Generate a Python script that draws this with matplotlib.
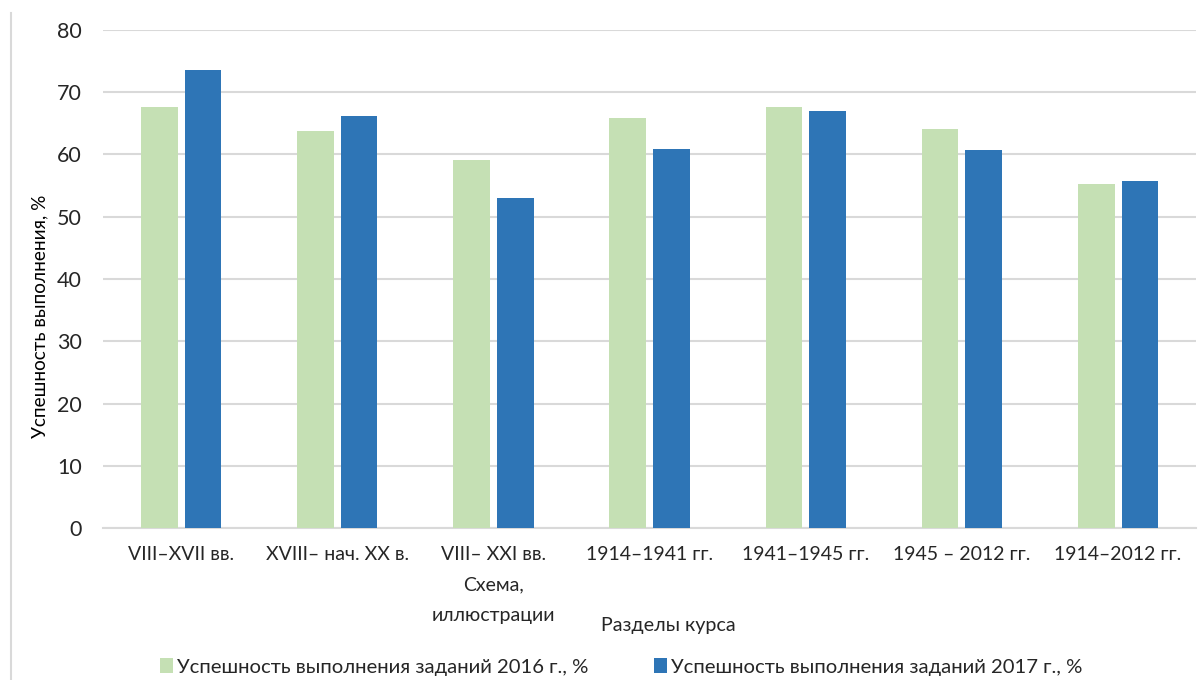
import numpy as np
import matplotlib.pyplot as plt
from matplotlib.lines import Line2D

plt.rcParams['font.family'] = ['Lato', 'DejaVu Sans']

# Разделы курса и успешность выполнения, %
sections = ["VIII–XVII вв.", "XVIII– нач. XX в.", "VIII– XXI вв.\nСхема,\nиллюстрации",
            "1914–1941 гг.", "1941–1945 гг.", "1945 – 2012 гг.", "1914–2012 гг."]
score_2016 = [67.6, 63.8, 59.0, 65.8, 67.6, 64.1, 55.3]
score_2017 = [73.5, 66.1, 52.9, 60.9, 66.9, 60.7, 55.7]
label_2016 = "Успешность выполнения заданий 2016 г., %"
label_2017 = "Успешность выполнения заданий 2017 г., %"

fig = plt.figure(figsize=(12.04, 6.80), dpi=100)
ax = fig.add_axes([0.0855, 0.223, 0.908, 0.7336])

x = np.arange(len(sections))
w = 0.235
ax.bar(x - 0.14, score_2016, w, color='#C5E0B4', label=label_2016, zorder=3)
ax.bar(x + 0.14, score_2017, w, color='#2E75B6', label=label_2017, zorder=3)

ax.set_xlim(-0.5, len(sections) - 0.5)
ax.set_ylim(0, 80)
ax.set_yticks(range(0, 81, 10))
ax.set_xticks(x)
ax.set_xticklabels(sections, fontsize=14, color='#262626', linespacing=1.95)
ax.tick_params(axis='y', labelsize=15.5, colors='#262626', length=0, pad=15)
ax.tick_params(axis='x', length=0, pad=13)
ax.grid(axis='y', color='#d9d9d9', linewidth=1.5, zorder=0)
for s in ['top', 'right', 'left']:
    ax.spines[s].set_visible(False)
ax.spines['bottom'].set_color('#d9d9d9')
ax.spines['bottom'].set_linewidth(1.5)

# подписи осей
fig.text(40 / 1204, 1 - 316 / 680, "Успешность выполнения, %", fontsize=13.7,
         rotation=90, ha='center', va='center', color='#000000')
fig.text(668 / 1204, 1 - 625 / 680, "Разделы курса", fontsize=14.2,
         ha='center', va='center', color='#262626')

fig.legend(loc='center', bbox_to_anchor=(0.516, 1 - 667 / 680), ncol=2, frameon=False,
           fontsize=14.6, handlelength=0.65, handleheight=0.75, handletextpad=0.2,
           columnspacing=3.2, labelcolor='#262626')

fig.add_artist(Line2D([11 / 1204, 11 / 1204], [0, 1 - 13 / 680],
                      transform=fig.transFigure, color='#d9d9d9', linewidth=1.5))

fig.savefig('out.png', dpi=100)
